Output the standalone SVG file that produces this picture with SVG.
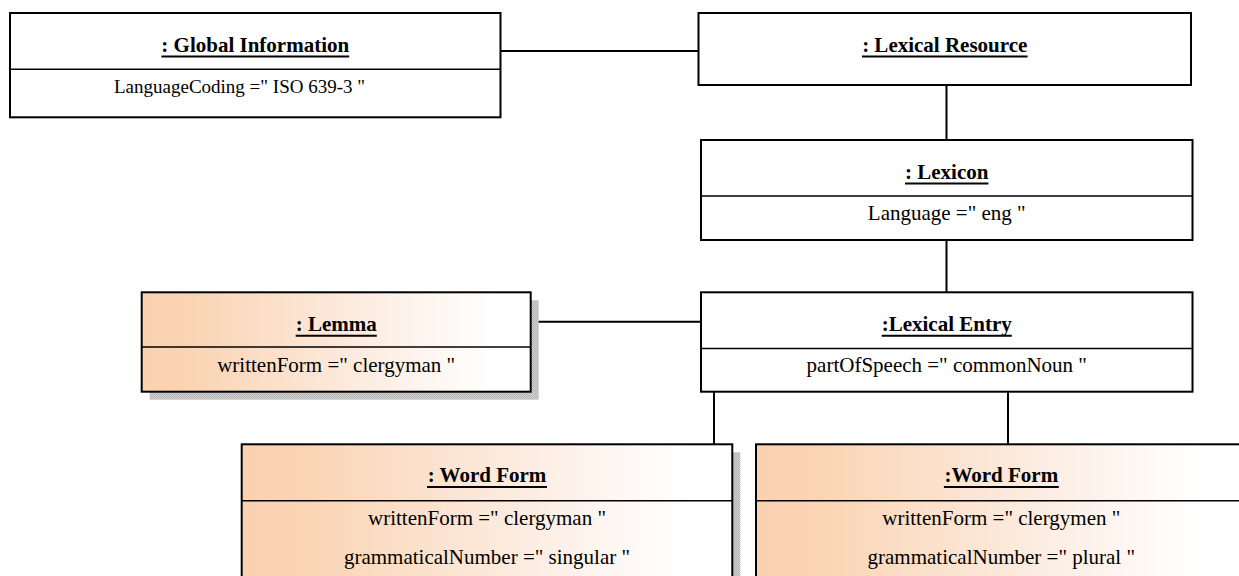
<svg xmlns="http://www.w3.org/2000/svg" width="1239" height="576" viewBox="0 0 1239 576">
  <defs>
    <!-- peach-to-white fill used by the highlighted objects -->
    <linearGradient id="peach" x1="0" y1="0" x2="1" y2="0">
      <stop offset="0" stop-color="#fad2b0"/>
      <stop offset="0.12" stop-color="#fad4b3"/>
      <stop offset="0.55" stop-color="#fcebdf"/>
      <stop offset="0.9" stop-color="#ffffff"/>
    </linearGradient>
    <!-- dithered grey drop shadow -->
    <pattern id="dither" width="2" height="2" patternUnits="userSpaceOnUse">
      <rect width="2" height="2" fill="#d2d2d2"/>
      <rect width="1" height="1" fill="#b4b4b4"/>
      <rect x="1" y="1" width="1" height="1" fill="#b4b4b4"/>
    </pattern>
  </defs>
  <style>
    .box { fill: #ffffff; stroke: #000000; stroke-width: 2; }
    .hl { fill: url(#peach); stroke: #000000; stroke-width: 2; }
    .shadow { fill: url(#dither); stroke: none; }
    .div { stroke: #000000; stroke-width: 1.5; }
    .ul { stroke: #000000; stroke-width: 2; }
    .title { font-family: "Liberation Serif", "Times New Roman", serif; font-size: 21px; font-weight: bold; fill: #000000; text-anchor: middle; }
    .attr { font-family: "Liberation Serif", "Times New Roman", serif; font-size: 21px; fill: #000000; text-anchor: middle; }
    .small { font-size: 19px; }
    .conn { stroke: #000000; stroke-width: 2; fill: none; }
  </style>

  <rect width="1239" height="576" fill="#ffffff"/>

  <!-- associations -->
  <g id="connectors">
    <line class="conn" x1="500.5" y1="51" x2="698.5" y2="51"/>
    <line class="conn" x1="946.5" y1="85" x2="946.5" y2="140"/>
    <line class="conn" x1="946.5" y1="240" x2="946.5" y2="292.3"/>
    <line class="conn" x1="530.7" y1="321.7" x2="701" y2="321.7"/>
    <line class="conn" x1="714" y1="391.7" x2="714" y2="444.3"/>
    <line class="conn" x1="1008" y1="391.7" x2="1008" y2="444.3"/>
  </g>

  <g id="global-information">
    <rect class="box" x="10" y="13" width="490.5" height="104.3"/>
    <line class="div" x1="10" y1="69.3" x2="500.5" y2="69.3"/>
    <text class="title" x="255.25" y="51.5">: Global Information</text>
    <line class="ul" x1="161.4" y1="56.5" x2="349.2" y2="56.5"/>
    <text class="attr small" x="239.5" y="93">LanguageCoding =" ISO 639-3 "</text>
  </g>

  <g id="lexical-resource">
    <rect class="box" x="698.5" y="13" width="492.5" height="72"/>
    <text class="title" x="944.75" y="51.5">: Lexical Resource</text>
    <line class="ul" x1="862" y1="56.5" x2="1027.6" y2="56.5"/>
  </g>

  <g id="lexicon">
    <rect class="box" x="701" y="140" width="491.5" height="100"/>
    <line class="div" x1="701" y1="196" x2="1192.5" y2="196"/>
    <text class="title" x="946.75" y="178.5">: Lexicon</text>
    <line class="ul" x1="905" y1="183.5" x2="988.4" y2="183.5"/>
    <text class="attr" x="946.75" y="220">Language =" eng "</text>
  </g>

  <g id="lexical-entry">
    <rect class="box" x="701" y="292.3" width="491.5" height="99.4"/>
    <line class="div" x1="701" y1="348.5" x2="1192.5" y2="348.5"/>
    <text class="title" x="946.75" y="330.8">:Lexical Entry</text>
    <line class="ul" x1="881.7" y1="335.8" x2="1011.8" y2="335.8"/>
    <text class="attr" x="946.75" y="372">partOfSpeech =" commonNoun "</text>
  </g>

  <g id="lemma">
    <rect class="shadow" x="149.7" y="300.3" width="389" height="99.4"/>
    <rect class="hl" x="141.7" y="292.3" width="389" height="99.4"/>
    <line class="div" x1="141.7" y1="347" x2="530.7" y2="347"/>
    <text class="title" x="336.2" y="330.8">: Lemma</text>
    <line class="ul" x1="295.7" y1="335.8" x2="376.8" y2="335.8"/>
    <text class="attr" x="336.2" y="372">writtenForm =" clergyman "</text>
  </g>

  <g id="word-form-singular">
    <rect class="shadow" x="249.7" y="452.3" width="490.6" height="200"/>
    <rect class="hl" x="241.7" y="444.3" width="490.6" height="200"/>
    <line class="div" x1="241.7" y1="500.7" x2="732.3" y2="500.7"/>
    <text class="title" x="487" y="482">: Word Form</text>
    <line class="ul" x1="427" y1="487" x2="547" y2="487"/>
    <text class="attr" x="487" y="525">writtenForm =" clergyman "</text>
    <text class="attr" x="487" y="564">grammaticalNumber =" singular "</text>
  </g>

  <g id="word-form-plural">
    <rect class="shadow" x="764" y="452.3" width="490.6" height="200"/>
    <rect class="hl" x="756" y="444.3" width="490.6" height="200"/>
    <line class="div" x1="756" y1="500.7" x2="1246.6" y2="500.7"/>
    <text class="title" x="1001.3" y="482">:Word Form</text>
    <line class="ul" x1="943.9" y1="487" x2="1058.8" y2="487"/>
    <text class="attr" x="1001.3" y="525">writtenForm =" clergymen "</text>
    <text class="attr" x="1001.3" y="564">grammaticalNumber =" plural "</text>
  </g>
</svg>
